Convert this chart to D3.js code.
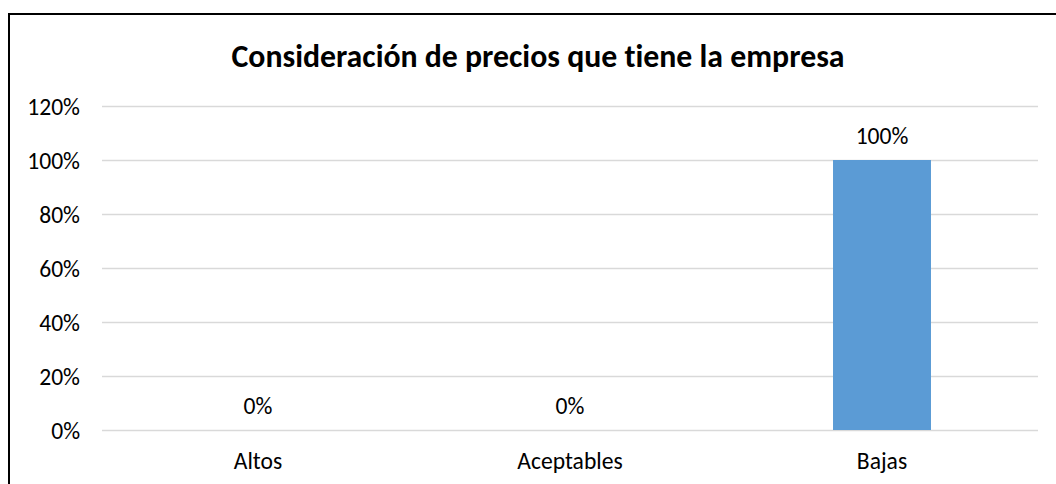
<!DOCTYPE html>
<html>
<head>
<meta charset="utf-8">
<script src="https://cdn.jsdelivr.net/npm/d3@7"></script>
<style>
  html, body { margin: 0; padding: 0; background: #fff; }
  svg { display: block; }
  text { font-family: Carlito, Calibri, Lato, "Open Sans", sans-serif; fill: #000; font-variant-ligatures: none; }
</style>
</head>
<body>
<svg id="chart" width="1056" height="484"></svg>
<script>
const title = "Consideración de precios que tiene la empresa";
const categories = ["Altos", "Aceptables", "Bajas"];
const values = [0, 0, 1];
const tickValues = [0, 0.2, 0.4, 0.6, 0.8, 1.0, 1.2];

const W = 1056, H = 484;
const margin = { left: 102, right: 1038, top: 106, bottom: 430 };

const svg = d3.select("#chart");

// outer frame (top and left borders visible, right/bottom cut off)
svg.append("rect")
  .attr("x", 9).attr("y", 14)
  .attr("width", 1060).attr("height", 500)
  .attr("fill", "none").attr("stroke", "#000").attr("stroke-width", 2);

const x = d3.scaleBand()
  .domain(categories)
  .range([margin.left, margin.right])
  .paddingInner(0.686)
  .paddingOuter(0.343);

const y = d3.scaleLinear()
  .domain([0, 1.2])
  .range([margin.bottom, margin.top]);

// gridlines
svg.append("g")
  .selectAll("line")
  .data(tickValues)
  .join("line")
  .attr("x1", margin.left).attr("x2", margin.right)
  .attr("y1", d => Math.round(y(d)) + 0.5)
  .attr("y2", d => Math.round(y(d)) + 0.5)
  .attr("stroke", "#d9d9d9").attr("stroke-width", 1.5);

// y axis labels
const yAxis = d3.axisLeft(y)
  .tickValues(tickValues)
  .tickFormat(d3.format(".0%"))
  .tickSize(0)
  .tickPadding(0);
const yg = svg.append("g")
  .attr("transform", `translate(80,0)`)
  .call(yAxis);
yg.select(".domain").remove();
yg.selectAll("text")
  .attr("dy", null)
  .attr("dominant-baseline", "central")
  .style("font-size", "23.6px")
  .style("font-family", "Carlito, Calibri, Lato, sans-serif")
  .attr("fill", "#000");

// bars
svg.append("g")
  .selectAll("rect")
  .data(values)
  .join("rect")
  .attr("x", (d, i) => x(categories[i]))
  .attr("width", x.bandwidth())
  .attr("y", d => y(d))
  .attr("height", d => y(0) - y(d))
  .attr("fill", "#5b9bd5");

// data labels
svg.append("g")
  .selectAll("text")
  .data(values)
  .join("text")
  .attr("x", (d, i) => x(categories[i]) + x.bandwidth() / 2)
  .attr("y", d => y(d) - 24)
  .attr("text-anchor", "middle")
  .attr("dominant-baseline", "central")
  .style("font-size", "23.6px")
  .text(d => d3.format(".0%")(d));

// x axis labels
const xAxis = d3.axisBottom(x).tickSize(0).tickPadding(0);
const xg = svg.append("g")
  .attr("transform", `translate(0,${margin.bottom})`)
  .call(xAxis);
xg.select(".domain").remove();
xg.selectAll("text")
  .attr("y", 31)
  .attr("dy", null)
  .attr("dominant-baseline", "central")
  .style("font-size", "23.6px")
  .style("font-family", "Carlito, Calibri, Lato, sans-serif")
  .attr("fill", "#000");

// title
svg.append("text")
  .attr("x", 538)
  .attr("y", 56)
  .attr("text-anchor", "middle")
  .attr("dominant-baseline", "central")
  .style("font-size", "31.8px")
  .style("font-weight", "bold")
  .text(title);
</script>
</body>
</html>
